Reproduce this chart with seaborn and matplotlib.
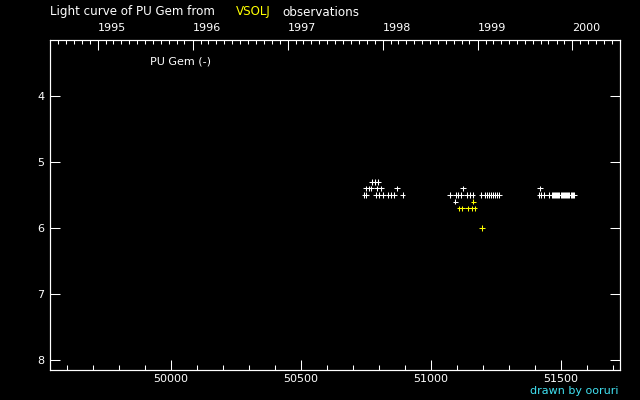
import pandas as pd
import matplotlib.pyplot as plt
import seaborn as sns
from matplotlib.ticker import MultipleLocator, FixedLocator

# observations (MJD = JD - 2400000.5, visual magnitude)
white_mjd = [50773, 50785, 50797,
             50750, 50760, 50771, 50792, 50809, 50870, 51124, 51420,
             50744, 50752, 50788, 50800, 50817, 50836, 50848, 50858, 50891,
             51074, 51095, 51105, 51115, 51137, 51150, 51160, 51194,
             51208, 51215, 51222, 51230, 51238, 51245, 51253, 51262,
             51417, 51424, 51436, 51455, 51464,
             51469, 51473, 51477, 51481, 51486, 51490, 51494, 51499, 51503, 51507,
             51511, 51516, 51520, 51524, 51528, 51532, 51537, 51541, 51545, 51551,
             51094]
white_mag = [5.3, 5.3, 5.3,
             5.4, 5.4, 5.4, 5.4, 5.4, 5.4, 5.4, 5.4,
             5.5, 5.5, 5.5, 5.5, 5.5, 5.5, 5.5, 5.5, 5.5,
             5.5, 5.5, 5.5, 5.5, 5.5, 5.5, 5.5, 5.5,
             5.5, 5.5, 5.5, 5.5, 5.5, 5.5, 5.5, 5.5,
             5.5, 5.5, 5.5, 5.5, 5.5,
             5.5, 5.5, 5.5, 5.5, 5.5, 5.5, 5.5, 5.5, 5.5, 5.5,
             5.5, 5.5, 5.5, 5.5, 5.5, 5.5, 5.5, 5.5, 5.5, 5.5,
             5.6]
yellow_mjd = [51163, 51109, 51119, 51143, 51158, 51168, 51197]
yellow_mag = [5.6, 5.7, 5.7, 5.7, 5.7, 5.7, 6.0]

years = [1995, 1996, 1997, 1998, 1999, 2000]
x_range = (49535, 51727)
y_range = (8.15, 3.15)

df = pd.DataFrame({
    'mjd': white_mjd + yellow_mjd,
    'mag': white_mag + yellow_mag,
    'source': ['visual'] * len(white_mjd) + ['other'] * len(yellow_mjd),
})

sns.set_style('ticks', rc={
    'figure.facecolor': 'black', 'axes.facecolor': 'black',
    'axes.edgecolor': 'white', 'axes.linewidth': 0.75,
    'text.color': 'white', 'xtick.color': 'white', 'ytick.color': 'white',
    'axes.grid': False,
})
plt.rcParams['font.family'] = ['DejaVu Sans']

fig = plt.figure(figsize=(6.4, 4.0), dpi=100)
ax = fig.add_axes([50 / 640, 30 / 400, 570 / 640, 330 / 400])

sns.scatterplot(data=df, x='mjd', y='mag', hue='source',
                palette={'visual': 'white', 'other': '#ffff00'},
                marker='+', s=16, linewidth=0.75, legend=False, ax=ax)

ax.set_xlim(*x_range)
ax.set_ylim(*y_range)
ax.set_xlabel('')
ax.set_ylabel('')
for side in ['top', 'bottom', 'left', 'right']:
    ax.spines[side].set_visible(True)
    ax.spines[side].set_color('white')

ax.xaxis.set_major_locator(MultipleLocator(500))
ax.xaxis.set_minor_locator(MultipleLocator(100))
ax.yaxis.set_major_locator(MultipleLocator(1))
ax.tick_params(axis='x', which='major', direction='in', length=7.2, width=0.75,
               labelsize=8, pad=3, top=False)
ax.tick_params(axis='x', which='minor', direction='in', length=3.6, width=0.75, top=False)
ax.tick_params(axis='y', which='major', direction='in', length=7.2, width=0.75,
               labelsize=8, pad=4, left=True, right=True, labelleft=True)

# calendar axis on top
epoch = pd.Timestamp('1858-11-17')
year_mjd = [(pd.Timestamp(f'{y}-01-01') - epoch).days for y in years]
months = pd.date_range('1994-01-01', '2001-01-01', freq='MS')
month_mjd = [(m - epoch).days for m in months if x_range[0] < (m - epoch).days < x_range[1]]

top = ax.twiny()
top.set_xlim(*x_range)
top.xaxis.set_major_locator(FixedLocator(year_mjd))
top.xaxis.set_minor_locator(FixedLocator(month_mjd))
top.set_xticklabels([str(y) for y in years])
top.tick_params(axis='x', which='major', direction='in', length=7.2, width=0.75,
                labelsize=8, pad=5)
top.tick_params(axis='x', which='minor', direction='in', length=2.8, width=0.75)
for lbl in top.get_xticklabels():
    lbl.set_horizontalalignment('left')

fig.text(50 / 640, 1 - 12 / 400, 'Light curve of PU Gem from', fontsize=8.6, va='center')
fig.text(236 / 640, 1 - 12 / 400, 'VSOLJ', fontsize=8.6, va='center', color='#ffff00')
fig.text(282 / 640, 1 - 12 / 400, 'observations', fontsize=8.6, va='center')
fig.text(150 / 640, 1 - 61 / 400, 'PU Gem (-)', fontsize=8, va='center')
fig.text(618 / 640, 1 - 391 / 400, 'drawn by ooruri', fontsize=8, va='center',
         ha='right', color='#40e0f0')

fig.savefig('out.png', dpi=100, facecolor='black')
